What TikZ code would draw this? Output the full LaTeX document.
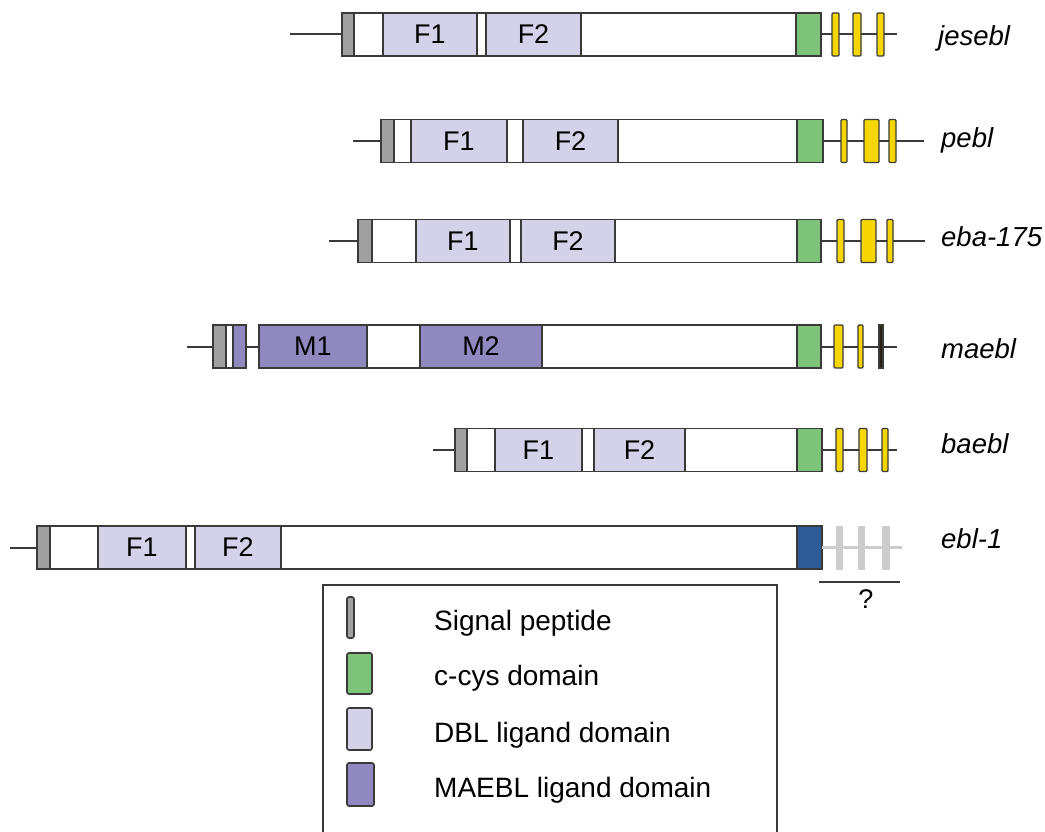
\documentclass[tikz,border=0pt]{standalone}
\usepackage{fontspec}
\setmainfont{Liberation Sans}
\definecolor{outline}{RGB}{58,58,58}
\definecolor{sigcol}{RGB}{160,160,160}
\definecolor{dblcol}{RGB}{212,210,232}
\definecolor{maecol}{RGB}{143,137,192}
\definecolor{ccyscol}{RGB}{125,196,122}
\definecolor{exoncol}{RGB}{246,214,0}
\definecolor{bluecol}{RGB}{46,92,152}
\definecolor{ghostcol}{RGB}{204,204,204}
\definecolor{darkexon}{RGB}{40,36,16}

% a domain block: name, left x, right x, centre y, style, text
\newcommand\dom[6]{%
  \node[#5, minimum width={#3-#2}, anchor=west] (#1) at (#2,#4) {#6};}

\tikzset{
  seg/.style={draw=outline, line width=1.6pt, fill=white, minimum height=43,
              inner sep=0pt, outer sep=0pt,
              font=\fontsize{27}{32}\selectfont},
  sig/.style={fill=sigcol},
  dbl/.style={fill=dblcol},
  mae/.style={fill=maecol},
  ccys/.style={fill=ccyscol},
  ebl/.style={fill=bluecol},
  exon/.style={seg, fill=exoncol, line width=1.4pt, rounded corners=1pt},
  darkbar/.style={seg, fill=darkexon, line width=1.2pt},
  ghost/.style={fill=ghostcol, draw=none, minimum height=44, inner sep=0pt, outer sep=0pt},
  bb/.style={draw=outline, line width=2pt},
  ghostline/.style={draw=ghostcol, line width=2.4pt},
  gene/.style={inner sep=0pt, anchor=base west,
               font=\fontsize{27.5}{32}\selectfont\itshape},
  keytext/.style={inner sep=0pt, anchor=base west,
                  font=\fontsize{28}{33}\selectfont},
  keyswatch/.style={draw=outline, line width=1.6pt, rounded corners=2pt}
}

\begin{document}
\begin{tikzpicture}[x=1pt, y=-1pt]
\useasboundingbox (0,0) rectangle (1045,832);
\clip (0,0) rectangle (1045,832);

% ---------- jesebl ----------
\coordinate (J0) at (290,34.5);
\coordinate (J1) at (897,34.5);
\dom{Jsp}{342}{354}{34.5}{seg,sig}{}
\dom{Jw1}{354}{383}{34.5}{seg}{}
\dom{JF1}{383}{477}{34.5}{seg,dbl}{F1}
\dom{Jw2}{477}{486}{34.5}{seg}{}
\dom{JF2}{486}{581}{34.5}{seg,dbl}{F2}
\dom{Jw3}{581}{796}{34.5}{seg}{}
\dom{Jc}{796}{821}{34.5}{seg,ccys}{}
\draw[bb] (J0) -- (Jsp.west);
\draw[bb] (Jc.east) -- (J1);
\dom{Je1}{832}{839}{34.5}{exon}{}
\dom{Je2}{853}{861}{34.5}{exon}{}
\dom{Je3}{877}{884}{34.5}{exon}{}
\node[gene] (Jn) at (938,46) {jesebl};

% ---------- pebl ----------
\coordinate (P0) at (353,141);
\coordinate (P1) at (924,141);
\dom{Psp}{381}{394}{141}{seg,sig}{}
\dom{Pw1}{394}{411}{141}{seg}{}
\dom{PF1}{411}{507}{141}{seg,dbl}{F1}
\dom{Pw2}{507}{523}{141}{seg}{}
\dom{PF2}{523}{618}{141}{seg,dbl}{F2}
\dom{Pw3}{618}{797}{141}{seg}{}
\dom{Pc}{797}{823}{141}{seg,ccys}{}
\draw[bb] (P0) -- (Psp.west);
\draw[bb] (Pc.east) -- (P1);
\dom{Pe1}{841}{847}{141}{exon}{}
\dom{Pe2}{864}{879}{141}{exon}{}
\dom{Pe3}{889}{896}{141}{exon}{}
\node[gene] (Pn) at (941,148) {pebl};

% ---------- eba-175 ----------
\coordinate (E0) at (329,241);
\coordinate (E1) at (925,241);
\dom{Esp}{358}{372}{241}{seg,sig}{}
\dom{Ew1}{372}{416}{241}{seg}{}
\dom{EF1}{416}{510}{241}{seg,dbl}{F1}
\dom{Ew2}{510}{521}{241}{seg}{}
\dom{EF2}{521}{615}{241}{seg,dbl}{F2}
\dom{Ew3}{615}{797}{241}{seg}{}
\dom{Ec}{797}{821}{241}{seg,ccys}{}
\draw[bb] (E0) -- (Esp.west);
\draw[bb] (Ec.east) -- (E1);
\dom{Ee1}{837}{844}{241}{exon}{}
\dom{Ee2}{861}{876}{241}{exon}{}
\dom{Ee3}{887}{893}{241}{exon}{}
\node[gene] (En) at (941,247) {eba-175};

% ---------- maebl ----------
\coordinate (M0) at (187,346.5);
\coordinate (M1) at (897,346.5);
\dom{Msp}{213}{226}{346.5}{seg,sig}{}
\dom{Mw0}{226}{233}{346.5}{seg}{}
\dom{Mpre}{233}{246}{346.5}{seg,mae}{}
\dom{MM1}{259}{367}{346.5}{seg,mae}{M1}
\dom{Mw1}{367}{420}{346.5}{seg}{}
\dom{MM2}{420}{542}{346.5}{seg,mae}{M2}
\dom{Mw2}{542}{797}{346.5}{seg}{}
\dom{Mc}{797}{821}{346.5}{seg,ccys}{}
\draw[bb] (M0) -- (Msp.west);
\draw[bb] (Mpre.east) -- (MM1.west);
\draw[bb] (Mc.east) -- (M1);
\dom{Me1}{834}{843}{346.5}{exon}{}
\dom{Me2}{858}{863}{346.5}{exon}{}
\dom{Me3}{879}{883}{346.5}{darkbar}{}
\node[gene] (Mn) at (941,358) {maebl};

% ---------- baebl ----------
\coordinate (B0) at (433,450);
\coordinate (B1) at (897,450);
\dom{Bsp}{455}{467}{450}{seg,sig}{}
\dom{Bw1}{467}{495}{450}{seg}{}
\dom{BF1}{495}{582}{450}{seg,dbl}{F1}
\dom{Bw2}{582}{594}{450}{seg}{}
\dom{BF2}{594}{685}{450}{seg,dbl}{F2}
\dom{Bw3}{685}{797}{450}{seg}{}
\dom{Bc}{797}{822}{450}{seg,ccys}{}
\draw[bb] (B0) -- (Bsp.west);
\draw[bb] (Bc.east) -- (B1);
\dom{Be1}{836}{843}{450}{exon}{}
\dom{Be2}{859}{867}{450}{exon}{}
\dom{Be3}{882}{888}{450}{exon}{}
\node[gene] (Bn) at (941,453) {baebl};

% ---------- ebl-1 ----------
\coordinate (L0) at (10,547.5);
\coordinate (L1) at (902,547.5);
\dom{Lsp}{37}{50}{547.5}{seg,sig}{}
\dom{Lw1}{50}{98}{547.5}{seg}{}
\dom{LF1}{98}{186}{547.5}{seg,dbl}{F1}
\dom{Lw2}{186}{195}{547.5}{seg}{}
\dom{LF2}{195}{281}{547.5}{seg,dbl}{F2}
\dom{Lw3}{281}{797}{547.5}{seg}{}
\dom{Lc}{797}{822}{547.5}{seg,ebl}{}
\draw[bb] (L0) -- (Lsp.west);
\draw[ghostline] (Lc.east) -- (L1);
\dom{Le1}{836}{843}{547.5}{ghost}{}
\dom{Le2}{858}{865}{547.5}{ghost}{}
\dom{Le3}{882}{890}{547.5}{ghost}{}
\coordinate (Q0) at (819,582);
\coordinate (Q1) at (900,582);
\draw[bb] (Q0) -- (Q1);
\node[inner sep=0pt, font=\fontsize{27}{32}\selectfont] (Qm) at (866,599) {?};
\node[gene] (Ln) at (941,548) {ebl-1};

% ---------- key ----------
\node[draw=outline, line width=1.6pt, minimum width=454, minimum height=280,
      inner sep=0pt, outer sep=0pt, anchor=north west] (key) at (323,585) {};
\draw[keyswatch, fill=sigcol]  (347,597) rectangle (354,638);
\draw[keyswatch, fill=ccyscol] (347,653) rectangle (372,694);
\draw[keyswatch, fill=dblcol]  (347,708) rectangle (372,750);
\draw[keyswatch, fill=maecol]  (347,763) rectangle (374,806);
\node[keytext] (k1) at (434,630) {Signal peptide};
\node[keytext] (k2) at (434,685) {c-cys domain};
\node[keytext] (k3) at (434,742) {DBL ligand domain};
\node[keytext] (k4) at (434,797) {MAEBL ligand domain};
\end{tikzpicture}
\end{document}
